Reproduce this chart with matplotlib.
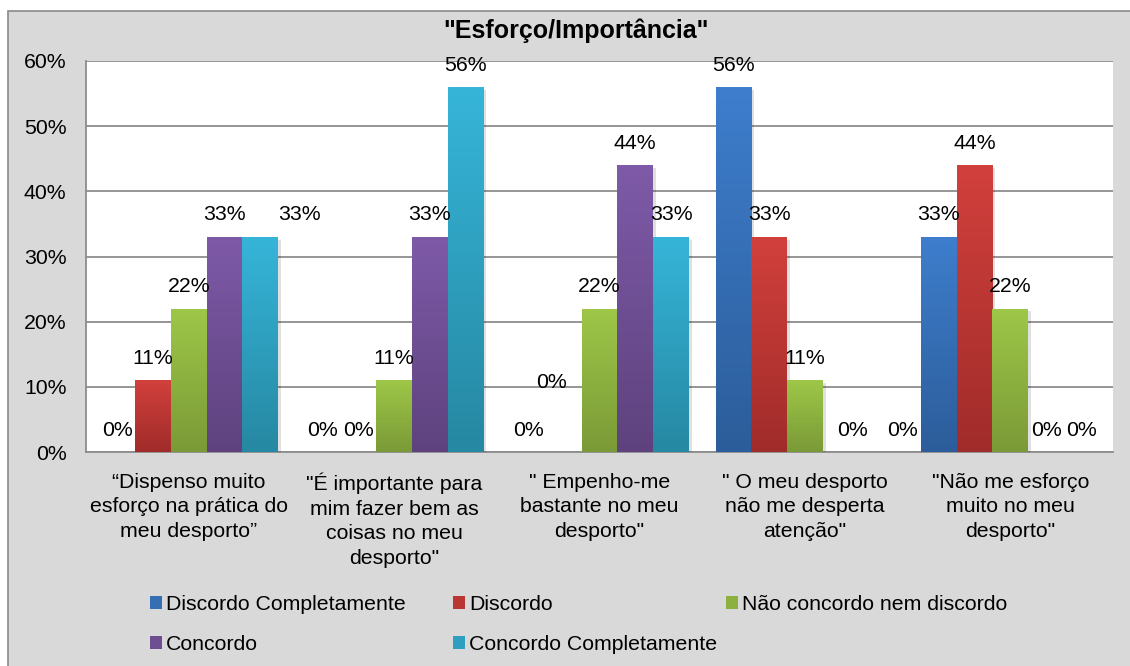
import matplotlib.pyplot as plt
import numpy as np
from matplotlib import patheffects
from matplotlib.colors import to_rgb
from matplotlib.patches import Rectangle

plt.rcParams["font.family"] = ["Liberation Sans", "DejaVu Sans"]

categories = [
    "“Dispenso muito\nesforço na prática do\nmeu desporto”",
    "\"É importante para\nmim fazer bem as\ncoisas no meu\ndesporto\"",
    "\" Empenho-me\nbastante no meu\ndesporto\"",
    "\" O meu desporto\nnão me desperta\natenção\"",
    "\"Não me esforço\nmuito no meu\ndesporto\"",
]
series_names = [
    "Discordo Completamente",
    "Discordo",
    "Não concordo nem discordo",
    "Concordo",
    "Concordo Completamente",
]
discordo_completamente = [0, 0, 0, 56, 33]
discordo = [11, 0, 0, 33, 44]
nao_concordo_nem_discordo = [22, 11, 22, 11, 22]
concordo = [33, 33, 44, 0, 0]
concordo_completamente = [33, 56, 33, 0, 0]
y_ticks = [0, 10, 20, 30, 40, 50, 60]

values = [discordo_completamente, discordo, nao_concordo_nem_discordo,
          concordo, concordo_completamente]

# (top, bottom) gradient colours per series
shades = [
    ("#3e7ecd", "#2c5d9a"),
    ("#d2403c", "#a02c2a"),
    ("#9ec748", "#7a9a37"),
    ("#7e5aa8", "#5e427e"),
    ("#36b5d9", "#2688a2"),
]

# a few labels sit off their bar, nudged in pixels (series, category) -> (dx, dy)
label_nudge = {(4, 0): (39, 0), (1, 2): (-12, 48), (3, 3): (12, 0), (4, 3): (26, 0)}

W, H = 1130, 666
fig = plt.figure(figsize=(W / 100, H / 100), dpi=100, facecolor="white")

# chart area background with its outline
fig.patches.append(Rectangle((8 / W, -0.1), 2.0, 1 - 11 / H + 0.1,
                             transform=fig.transFigure, facecolor="#d9d9d9",
                             edgecolor="#8a8a8a", linewidth=1.2, zorder=-5))

ax = fig.add_axes([86 / W, (H - 452) / H, (1113 - 86) / W, (452 - 61) / H])
ax.set_zorder(2)
ax.set_facecolor("white")

fs = 15.3
bar_w = 0.174
x = np.arange(len(categories))

for i, (vals, (top, bot)) in enumerate(zip(values, shades)):
    xs = x + (i - 2) * bar_w
    bars = ax.bar(xs, vals, width=bar_w, color=bot, zorder=3, linewidth=0)
    grad = np.linspace(0, 1, 256)[:, None, None]
    img = np.array(to_rgb(bot)) * (1 - grad) + np.array(to_rgb(top)) * grad
    for b, v in zip(bars, vals):
        if v <= 0:
            continue
        b.set_path_effects([
            patheffects.SimplePatchShadow(offset=(2, -2), shadow_rgbFace="k",
                                          alpha=0.12),
            patheffects.Normal(),
        ])
        im = ax.imshow(img, extent=(b.get_x(), b.get_x() + bar_w, 0, v),
                       origin="lower", aspect="auto", zorder=4,
                       interpolation="bilinear")
        im.set_clip_path(b)

    for j, (xx, v) in enumerate(zip(xs, vals)):
        dx, dy = label_nudge.get((i, j), (0, 0))
        ax.annotate(f"{v}%", (xx, v), xytext=(dx, 22 + dy),
                    textcoords="offset pixels", ha="center", va="center",
                    fontsize=fs, color="black", zorder=6)

ax.set_xlim(-0.5, len(categories) - 0.5)
ax.set_ylim(0, 60)
ax.set_yticks(y_ticks)
ax.set_yticklabels([f"{t}%" for t in y_ticks], fontsize=fs)
ax.set_xticks(x)
ax.set_xticklabels(categories, fontsize=fs, linespacing=1.37)
ax.tick_params(axis="y", length=0, pad=14)
ax.tick_params(axis="x", length=0, pad=15)
ax.yaxis.grid(True, color="#8c8c8c", linewidth=1.3, zorder=1)
ax.set_axisbelow(True)
for side in ("top", "right"):
    ax.spines[side].set_visible(False)
for side in ("left", "bottom"):
    ax.spines[side].set_color("#8c8c8c")
    ax.spines[side].set_linewidth(1.3)

fig.text(576 / W, 1 - 31 / H, "\"Esforço/Importância\"", ha="center",
         va="center", fontsize=18, fontweight="bold")

# legend laid out row by row, one column block at a time
columns = [(150, [0, 3]), (453, [1, 4]), (726, [2])]
for left, idx in columns:
    handles = [Rectangle((0, 0), 1, 1, facecolor=np.mean(
        [to_rgb(c) for c in shades[k]], axis=0)) for k in idx]
    fig.legend(handles, [series_names[k] for k in idx], loc="upper left",
               bbox_to_anchor=(left / W, 1 - 595 / H), frameon=False,
               fontsize=fs, handlelength=0.55, handleheight=0.55,
               handletextpad=0.2, labelspacing=1.0,
               borderpad=0, borderaxespad=0)

fig.savefig("out.png", dpi=100, facecolor=fig.get_facecolor())
